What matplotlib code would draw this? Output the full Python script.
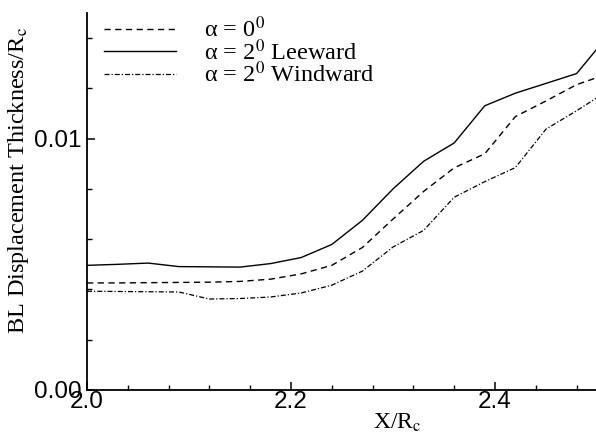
import matplotlib
matplotlib.use('Agg')
import matplotlib.pyplot as plt
from matplotlib.ticker import MultipleLocator, FormatStrFormatter

# x stations along the body
x = [2.00, 2.03, 2.06, 2.09, 2.12, 2.15, 2.18, 2.21, 2.24, 2.27,
     2.30, 2.33, 2.36, 2.39, 2.42, 2.45, 2.48, 2.50]

# alpha = 0
dt_a0 = [0.00426, 0.00426, 0.00427, 0.00428, 0.00429, 0.00432, 0.00441, 0.00462, 0.00496, 0.00567,
         0.00680, 0.00790, 0.00884, 0.00940, 0.01088, 0.01150, 0.01215, 0.01243]
# alpha = 2 leeward
dt_lee = [0.00496, 0.00500, 0.00505, 0.00491, 0.00490, 0.00489, 0.00503, 0.00527, 0.00579, 0.00675,
          0.00800, 0.00910, 0.00983, 0.01131, 0.01181, 0.01220, 0.01259, 0.01357]
# alpha = 2 windward
dt_wind = [0.00393, 0.00392, 0.00391, 0.00390, 0.00362, 0.00364, 0.00370, 0.00386, 0.00417, 0.00473,
           0.00569, 0.00635, 0.00767, 0.00829, 0.00885, 0.01038, 0.01111, 0.01163]

labels = ['\u03b1 = 0$^0$', '\u03b1 = 2$^0$ Leeward', '\u03b1 = 2$^0$ Windward']

plt.rcParams['mathtext.fontset'] = 'stix'
plt.rcParams['font.family'] = 'Liberation Serif'

fig = plt.figure(figsize=(5.96, 4.38), dpi=100)
ax = fig.add_axes([87/596, 1-390/438, 510/596, 377/438])

ax.plot(x, dt_a0, color='black', lw=1.0, dashes=(4.5, 3.2), label=labels[0])
ax.plot(x, dt_lee, color='black', lw=1.0, label=labels[1])
ax.plot(x, dt_wind, color='black', lw=0.9, dashes=(4, 1.6, 1, 1.6), label=labels[2])

ax.set_xlim(2.0, 2.5)
ax.set_ylim(0.0, 0.015)
ax.spines['top'].set_visible(False)
ax.spines['right'].set_visible(False)
for s in ['left', 'bottom']:
    ax.spines[s].set_linewidth(1.3)

ax.xaxis.set_major_locator(MultipleLocator(0.2))
ax.xaxis.set_minor_locator(MultipleLocator(0.04))
ax.yaxis.set_major_locator(MultipleLocator(0.01))
ax.yaxis.set_minor_locator(MultipleLocator(0.002))
ax.xaxis.set_major_formatter(FormatStrFormatter('%.1f'))
ax.yaxis.set_major_formatter(FormatStrFormatter('%.2f'))
ax.tick_params(which='major', direction='in', length=6, width=1.1, pad=4)
ax.tick_params(which='minor', direction='in', length=3.5, width=1.0)
for lab in ax.get_xticklabels() + ax.get_yticklabels():
    lab.set_fontfamily('Liberation Sans')
    lab.set_fontsize(17.5)
ax.tick_params(axis='x', pad=1)

ax.set_xlabel('X/R$_\\mathrm{c}$', fontsize=17)
ax.xaxis.set_label_coords(0.608, -0.058)
ax.set_ylabel('BL Displacement Thickness/R$_\\mathrm{c}$', fontsize=17.5)
ax.yaxis.set_label_coords(-0.11, 0.555)

ax.legend(loc='upper left', bbox_to_anchor=(0.0, 1.036), frameon=False,
          fontsize=17.5, handlelength=2.95, handletextpad=1.15, labelspacing=-0.12,
          borderaxespad=0.3)

fig.savefig('out.png', dpi=100)
